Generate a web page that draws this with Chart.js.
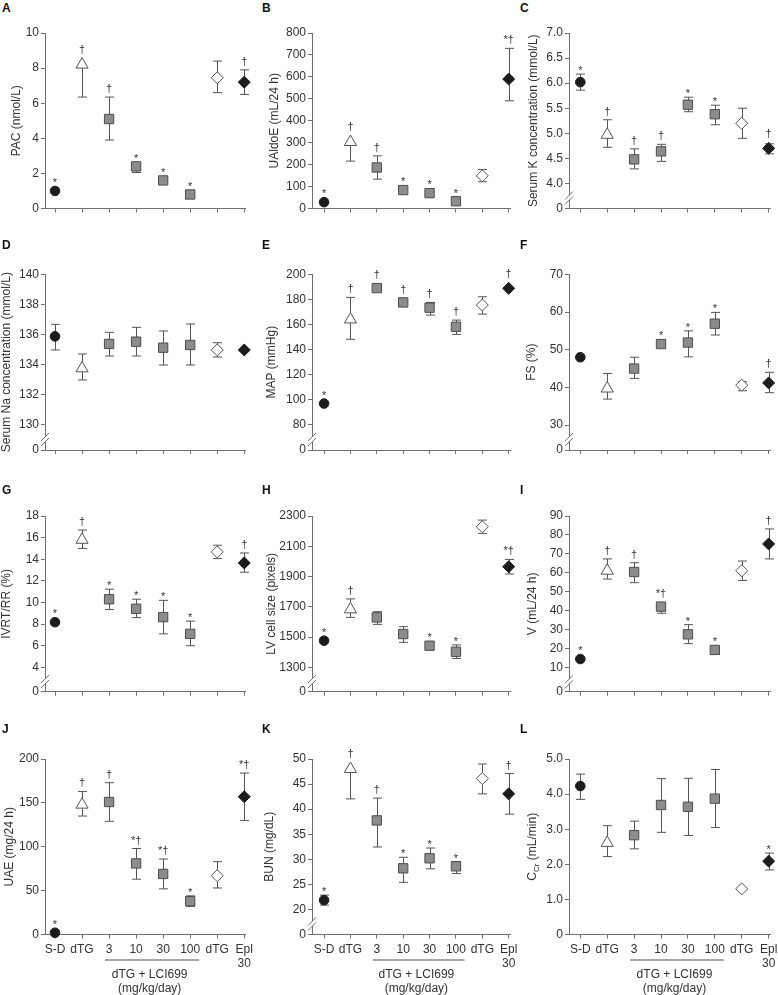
<!DOCTYPE html>
<html>
<head>
<meta charset="utf-8">
<script src="https://cdn.jsdelivr.net/npm/chart.js@4.4.1/dist/chart.umd.min.js"></script>
<style>
  body { margin: 0; background: #fff; width: 778px; height: 995px; position: relative; overflow: hidden; }
  canvas { position: absolute; }
  .letter { position: absolute; font: bold 12px "Liberation Sans", Arial, sans-serif; line-height: 12px; color: #111; }
</style>
</head>
<body>
<script>
// x categories (same for every panel)
const groupLabels = ['S-D', 'dTG', '3', '10', '30', '100', 'dTG', ['Epl', '30']];

// A - PAC
const pacMean = [1.0, 8.2, 5.1, 2.4, 1.6, 0.8, 7.45, 7.2];
const pacHi = [null, null, 6.35, 2.6, null, null, 8.4, 7.9];
const pacLo = [null, 6.35, 3.9, 2.05, null, null, 6.6, 6.5];
const pacSig = ['*', '†', '†', '*', '*', '*', '', '†'];
const pacTicks = [0, 2, 4, 6, 8, 10];

// B - UAldoE
const aldoMean = [29, 303, 187, 84, 70, 33, 149, 590];
const aldoHi = [null, null, 240, null, null, null, 178, 730];
const aldoLo = [null, 216, 134, null, null, null, 122, 491];
const aldoSig = ['*', '†', '†', '*', '*', '*', '', '*†'];
const aldoTicks = [0, 100, 200, 300, 400, 500, 600, 700, 800];

// C - serum K
const kMean = [6.02, 4.97, 4.48, 4.64, 5.57, 5.38, 5.2, 4.7];
const kHi = [6.18, 5.27, 4.69, 4.78, 5.72, 5.56, 5.5, 4.79];
const kLo = [5.86, 4.72, 4.29, 4.44, 5.43, 5.17, 4.9, 4.59];
const kSig = ['*', '†', '†', '†', '*', '*', '', '†'];
const kTicks = [4.0, 4.5, 5.0, 5.5, 6.0, 6.5, 7.0];

// D - serum Na
const naMean = [135.88, 133.76, 135.38, 135.53, 135.13, 135.31, 134.98, 134.98];
const naHi = [136.68, 134.71, 136.15, 136.48, 136.24, 136.7, 135.46, null];
const naLo = [134.98, 132.99, 134.58, 134.58, 133.98, 133.98, 134.51, null];
const naSig = ['', '', '', '', '', '', '', ''];
const naTicks = [130, 132, 134, 136, 138, 140];

// E - MAP
const mapMean = [97, 164, 189, 177.6, 173.4, 158.2, 175.5, 188.8];
const mapHi = [null, 181.6, null, null, 177.6, 163.5, 182.1, null];
const mapLo = [null, 148.2, null, null, 167.5, 152.1, 168.3, null];
const mapSig = ['*', '†', '†', '†', '†', '†', '', '†'];
const mapTicks = [80, 100, 120, 140, 160, 180, 200];

// F - FS
const fsMean = [48.0, 39.7, 45.0, 51.5, 51.9, 56.9, 40.6, 41.2];
const fsHi = [48.5, 43.7, 48.0, 52.1, 55.0, 59.9, 41.5, 44.0];
const fsLo = [47.4, 36.9, 42.4, 50.9, 48.1, 53.9, 39.1, 38.6];
const fsSig = ['', '', '', '*', '*', '*', '', '†'];
const fsTicks = [30, 40, 50, 60, 70];

// G - IVRT/RR
const ivrtMean = [8.18, 15.8, 10.3, 9.42, 8.65, 7.1, 14.68, 13.66];
const ivrtHi = [null, 16.7, 11.23, 10.3, 10.2, 8.28, 15.3, 14.58];
const ivrtLo = [null, 15.0, 9.35, 8.6, 7.1, 6.0, 14.06, 12.8];
const ivrtSig = ['*', '†', '*', '*', '*', '*', '', '†'];
const ivrtTicks = [4, 6, 8, 10, 12, 14, 16, 18];

// H - LV cell size
const lvMean = [1476, 1683, 1630, 1520, 1443, 1403, 2229, 1965];
const lvHi = [null, 1752, 1668, 1569, null, 1448, 2273, 2013];
const lvLo = [null, 1630, 1584, 1465, null, 1359, 2185, 1917];
const lvSig = ['*', '†', '', '', '*', '*', '', '*†'];
const lvTicks = [1300, 1500, 1700, 1900, 2100, 2300];

// I - urine volume
const vMean = [14.7, 61.2, 60.5, 42.3, 27.7, 19.5, 61.2, 75.3];
const vHi = [null, 67.4, 65.4, 44.0, 32.8, null, 66.3, 83.2];
const vLo = [null, 56.8, 54.9, 38.8, 22.8, 17.2, 56.1, 67.4];
const vSig = ['*', '†', '†', '*†', '*', '*', '', '†'];
const vTicks = [10, 20, 30, 40, 50, 60, 70, 80, 90];

// J - UAE
const uaeMean = [2, 148, 151, 81, 69, 38, 67, 157];
const uaeHi = [null, 163, 173, 98, 86, 44, 83, 184];
const uaeLo = [null, 135, 129, 63, 52, 32, 53, 130];
const uaeSig = ['*', '†', '†', '*†', '*†', '*', '', '*†'];
const uaeTicks = [0, 50, 100, 150, 200];

// K - BUN
const bunMean = [21.85, 48.0, 37.75, 28.2, 30.2, 28.6, 46.1, 43.05];
const bunHi = [22.85, null, 42.2, 30.4, 32.25, 29.5, 49.0, 47.1];
const bunLo = [20.86, 42.05, 32.45, 25.4, 28.1, 27.15, 43.05, 39.0];
const bunSig = ['*', '†', '†', '*', '*', '*', '', '†'];
const bunTicks = [20, 25, 30, 35, 40, 45, 50];

// L - CCr
const ccrMean = [4.23, 2.61, 2.83, 3.69, 3.64, 3.87, 1.30, 2.09];
const ccrHi = [4.57, 3.1, 3.23, 4.44, 4.45, 4.70, null, 2.32];
const ccrLo = [3.85, 2.22, 2.44, 2.91, 2.82, 3.05, null, 1.84];
const ccrSig = ['', '', '', '', '', '', '', '*'];
const ccrTicks = [0, 1, 2, 3, 4, 5];

// marker look per group
const pointStyles = ['circle', 'triangle', 'rect', 'rect', 'rect', 'rect', 'rectRot', 'rectRot'];
const pointRadii = [4.8, 7, 6.6, 6.6, 6.6, 6.6, 6, 6];
const markerTop = [4.8, 7, 4.7, 4.7, 4.7, 4.7, 6, 6];
const pointFills = ['#1c1c1c', '#ffffff', '#8c8c8c', '#8c8c8c', '#8c8c8c', '#8c8c8c', '#ffffff', '#1c1c1c'];
const pointBorders = ['#1c1c1c', '#555555', '#4d4d4d', '#4d4d4d', '#4d4d4d', '#4d4d4d', '#555555', '#1c1c1c'];

const axisColor = '#707070';
const barColor = '#555555';
const fontFamily = '"Liberation Sans", Arial, Helvetica, sans-serif';

Chart.defaults.font.family = fontFamily;
Chart.defaults.font.size = 12;
Chart.defaults.color = '#333';

// layout of the grid
const cols = [
    { left: 0, width: 260, axis: 45, x0: 55, step: 27.04 },
    { left: 260, width: 258, axis: 312, x0: 324.3, step: 26.86 },
    { left: 518, width: 260, axis: 569, x0: 580.3, step: 26.91 }
];
const rows = [
    { top: 0, height: 245, plotTop: 33, plotBottom: 208.5, letterY: 7 },
    { top: 245, height: 245, plotTop: 274.3, plotBottom: 450, letterY: 244.5 },
    { top: 490, height: 240, plotTop: 516, plotBottom: 691.7, letterY: 489 },
    { top: 730, height: 265, plotTop: 759, plotBottom: 934.5, letterY: 728.5 }
];

const panels = [
    { id: 'A', col: 0, row: 0, title: 'PAC (nmol/L)', titleX: 16.7, mean: pacMean, hi: pacHi, lo: pacLo, sig: pacSig, ticks: pacTicks, brk: null, dec: 0 },
    { id: 'B', col: 1, row: 0, title: 'UAldoE (mL/24 h)', titleX: 15, mean: aldoMean, hi: aldoHi, lo: aldoLo, sig: aldoSig, ticks: aldoTicks, brk: null, dec: 0 },
    { id: 'C', col: 2, row: 0, title: 'Serum K concentration (mmol/L)', titleX: 16, mean: kMean, hi: kHi, lo: kLo, sig: kSig, ticks: kTicks, brk: 3.5, dec: 1 },
    { id: 'D', col: 0, row: 1, title: 'Serum Na concentration (mmol/L)', titleX: 6.5, mean: naMean, hi: naHi, lo: naLo, sig: naSig, ticks: naTicks, brk: 128.34, dec: 0 },
    { id: 'E', col: 1, row: 1, title: 'MAP (mmHg)', titleX: 11.7, mean: mapMean, hi: mapHi, lo: mapLo, sig: mapSig, ticks: mapTicks, brk: 60, dec: 0 },
    { id: 'F', col: 2, row: 1, title: 'FS (%)', titleX: 13.3, mean: fsMean, hi: fsHi, lo: fsLo, sig: fsSig, ticks: fsTicks, brk: 23.4, dec: 0 },
    { id: 'G', col: 0, row: 2, title: 'IVRT/RR (%)', titleX: 7, mean: ivrtMean, hi: ivrtHi, lo: ivrtLo, sig: ivrtSig, ticks: ivrtTicks, brk: 1.75, dec: 0 },
    { id: 'H', col: 1, row: 2, title: 'LV cell size (pixels)', titleX: 11.7, mean: lvMean, hi: lvHi, lo: lvLo, sig: lvSig, ticks: lvTicks, brk: 1139, dec: 0 },
    { id: 'I', col: 2, row: 2, title: 'V (mL/24 h)', titleX: 15, mean: vMean, hi: vHi, lo: vLo, sig: vSig, ticks: vTicks, brk: -2.5, dec: 0 },
    { id: 'J', col: 0, row: 3, title: 'UAE (mg/24 h)', titleX: 10, mean: uaeMean, hi: uaeHi, lo: uaeLo, sig: uaeSig, ticks: uaeTicks, brk: null, dec: 0 },
    { id: 'K', col: 1, row: 3, title: 'BUN (mg/dL)', titleX: 9.3, mean: bunMean, hi: bunHi, lo: bunLo, sig: bunSig, ticks: bunTicks, brk: 15, dec: 0 },
    { id: 'L', col: 2, row: 3, title: null, titleX: 15, mean: ccrMean, hi: ccrHi, lo: ccrLo, sig: ccrSig, ticks: ccrTicks, brk: null, dec: 1 }
];

function panelPlugin(p) {
    return {
        id: 'panelExtras' + p.id,
        // error bars go under the markers
        beforeDatasetsDraw(chart) {
            const { ctx, scales: { x, y } } = chart;
            ctx.save();
            ctx.strokeStyle = barColor;
            ctx.lineWidth = 1;
            p.mean.forEach((m, i) => {
                const hi = p.hi[i], lo = p.lo[i];
                if (hi == null && lo == null) return;
                const px = Math.round(x.getPixelForValue(i)) + 0.5;
                const y0 = y.getPixelForValue(hi != null ? hi : m);
                const y1 = y.getPixelForValue(lo != null ? lo : m);
                ctx.beginPath();
                ctx.moveTo(px, y0);
                ctx.lineTo(px, y1);
                if (hi != null) { ctx.moveTo(px - 4.5, y0); ctx.lineTo(px + 4.5, y0); }
                if (lo != null) { ctx.moveTo(px - 4.5, y1); ctx.lineTo(px + 4.5, y1); }
                ctx.stroke();
            });
            ctx.restore();
        },
        afterDatasetsDraw(chart) {
            const { ctx, scales: { x, y } } = chart;
            ctx.save();
            ctx.fillStyle = '#333';
            ctx.font = '11px ' + fontFamily;
            ctx.textAlign = 'center';
            ctx.textBaseline = 'alphabetic';
            p.sig.forEach((s, i) => {
                if (!s) return;
                const px = x.getPixelForValue(i);
                let top = y.getPixelForValue(p.mean[i]) - markerTop[i];
                if (p.hi[i] != null) top = Math.min(top, y.getPixelForValue(p.hi[i]));
                const m = ctx.measureText(s);
                ctx.fillText(s, px, top - 4 - m.actualBoundingBoxDescent);
            });
            ctx.restore();
        },
        afterDraw(chart) {
            const { ctx, scales: { x, y }, chartArea } = chart;
            ctx.save();
            // axis break marks
            if (p.brk != null) {
                const ax = chartArea.left;
                const yb = (y.getPixelForValue(p.brk) + y.getPixelForValue(p.ticks[0])) / 2 + 2;
                ctx.fillStyle = '#fff';
                ctx.beginPath();
                ctx.moveTo(ax - 4, yb + 1.5);
                ctx.lineTo(ax + 4, yb - 6.5);
                ctx.lineTo(ax + 4, yb - 1.5);
                ctx.lineTo(ax - 4, yb + 6.5);
                ctx.closePath();
                ctx.fill();
                ctx.strokeStyle = axisColor;
                ctx.lineWidth = 1;
                ctx.beginPath();
                ctx.moveTo(ax - 4, yb + 1.5); ctx.lineTo(ax + 4, yb - 6.5);
                ctx.moveTo(ax - 4, yb + 6.5); ctx.lineTo(ax + 4, yb - 1.5);
                ctx.stroke();
            }
            // LCI699 dose bracket under the bottom row
            if (p.row === 3) {
                ctx.strokeStyle = '#8a8a8a';
                ctx.lineWidth = 1.5;
                ctx.beginPath();
                ctx.moveTo(x.getPixelForValue(1.85), 230);
                ctx.lineTo(x.getPixelForValue(5.33), 230);
                ctx.stroke();
                ctx.fillStyle = '#333';
                ctx.font = '12px ' + fontFamily;
                ctx.textAlign = 'center';
                ctx.textBaseline = 'middle';
                const cx = x.getPixelForValue(3.5);
                ctx.fillText('dTG + LCI699', cx, 245);
                ctx.fillText('(mg/kg/day)', cx, 258.5);
            }
            // C_Cr title with subscript
            if (p.id === 'L') {
                ctx.translate(p.titleX, (chartArea.top + chartArea.bottom) / 2);
                ctx.rotate(-Math.PI / 2);
                ctx.fillStyle = '#333';
                ctx.textBaseline = 'middle';
                ctx.textAlign = 'left';
                const big = '12px ' + fontFamily, small = '8px ' + fontFamily;
                ctx.font = big;
                const w1 = ctx.measureText('C').width;
                const w3 = ctx.measureText(' (mL/min)').width;
                ctx.font = small;
                const w2 = ctx.measureText('Cr').width;
                let cx = -(w1 + w2 + w3) / 2;
                ctx.font = big;
                ctx.fillText('C', cx, 0);
                cx += w1;
                ctx.font = small;
                ctx.fillText('Cr', cx, 3.5);
                cx += w2;
                ctx.font = big;
                ctx.fillText(' (mL/min)', cx, 0);
            }
            ctx.restore();
        }
    };
}

panels.forEach(p => {
    const col = cols[p.col];
    const row = rows[p.row];

    const letter = document.createElement('div');
    letter.className = 'letter';
    letter.textContent = p.id;
    letter.style.left = (col.left + 2) + 'px';
    letter.style.top = (row.letterY - 5.5) + 'px';
    document.body.appendChild(letter);

    const canvas = document.createElement('canvas');
    canvas.width = col.width;
    canvas.height = row.height;
    canvas.style.left = col.left + 'px';
    canvas.style.top = row.top + 'px';
    document.body.appendChild(canvas);

    const axisLocal = col.axis - col.left;
    const x0Local = col.x0 - col.left;
    const rightLocal = x0Local + 7.05 * col.step;
    const xMin = -(x0Local - axisLocal) / col.step;
    const yMin = p.brk != null ? p.brk : p.ticks[0];
    const yMax = p.ticks[p.ticks.length - 1];

    new Chart(canvas, {
        type: 'scatter',
        data: {
            datasets: [{
                data: p.mean.map((v, i) => ({ x: i, y: v })),
                pointStyle: pointStyles,
                pointRadius: pointRadii,
                pointHoverRadius: pointRadii,
                backgroundColor: pointFills,
                borderColor: pointBorders,
                borderWidth: 1,
                clip: false
            }]
        },
        options: {
            responsive: false,
            animation: false,
            events: [],
            layout: {
                padding: { top: row.plotTop - row.top, right: col.width - rightLocal, left: 0, bottom: 0 }
            },
            plugins: {
                legend: { display: false },
                tooltip: { enabled: false }
            },
            scales: {
                x: {
                    type: 'linear',
                    min: xMin,
                    max: 7.05,
                    bounds: 'data',
                    afterBuildTicks: s => { s.ticks = groupLabels.map((g, i) => ({ value: i })); },
                    afterFit: s => {
                        s.height = row.height - (row.plotBottom - row.top);
                        s.paddingLeft = 0;
                        s.paddingRight = 0;
                    },
                    ticks: {
                        autoSkip: false,
                        maxRotation: 0,
                        minRotation: 0,
                        padding: 5,
                        color: '#333',
                        font: { size: 12, lineHeight: 1.1 },
                        callback: (v, i) => p.row === 3 ? groupLabels[i] : ''
                    },
                    grid: { drawOnChartArea: false, tickLength: 4, color: axisColor },
                    border: { color: axisColor }
                },
                y: {
                    type: 'linear',
                    min: yMin,
                    max: yMax,
                    bounds: 'data',
                    afterBuildTicks: s => {
                        const vals = (p.brk != null ? [p.brk] : []).concat(p.ticks);
                        s.ticks = vals.map(v => ({ value: v }));
                    },
                    afterFit: s => {
                        s.width = axisLocal;
                        s.paddingTop = 0;
                        s.paddingBottom = 0;
                    },
                    ticks: {
                        padding: 2,
                        color: '#333',
                        font: { size: 12 },
                        callback: v => (v === p.brk || v === 0) ? '0' : v.toFixed(p.dec)
                    },
                    grid: { drawOnChartArea: false, tickLength: 4, color: axisColor },
                    border: { color: axisColor },
                    title: {
                        display: p.title != null,
                        text: p.title || '',
                        color: '#333',
                        font: { size: 12 },
                        padding: { top: p.titleX - 7.2, bottom: 0 }
                    }
                }
            }
        },
        plugins: [panelPlugin(p)]
    });
});
</script>
</body>
</html>
